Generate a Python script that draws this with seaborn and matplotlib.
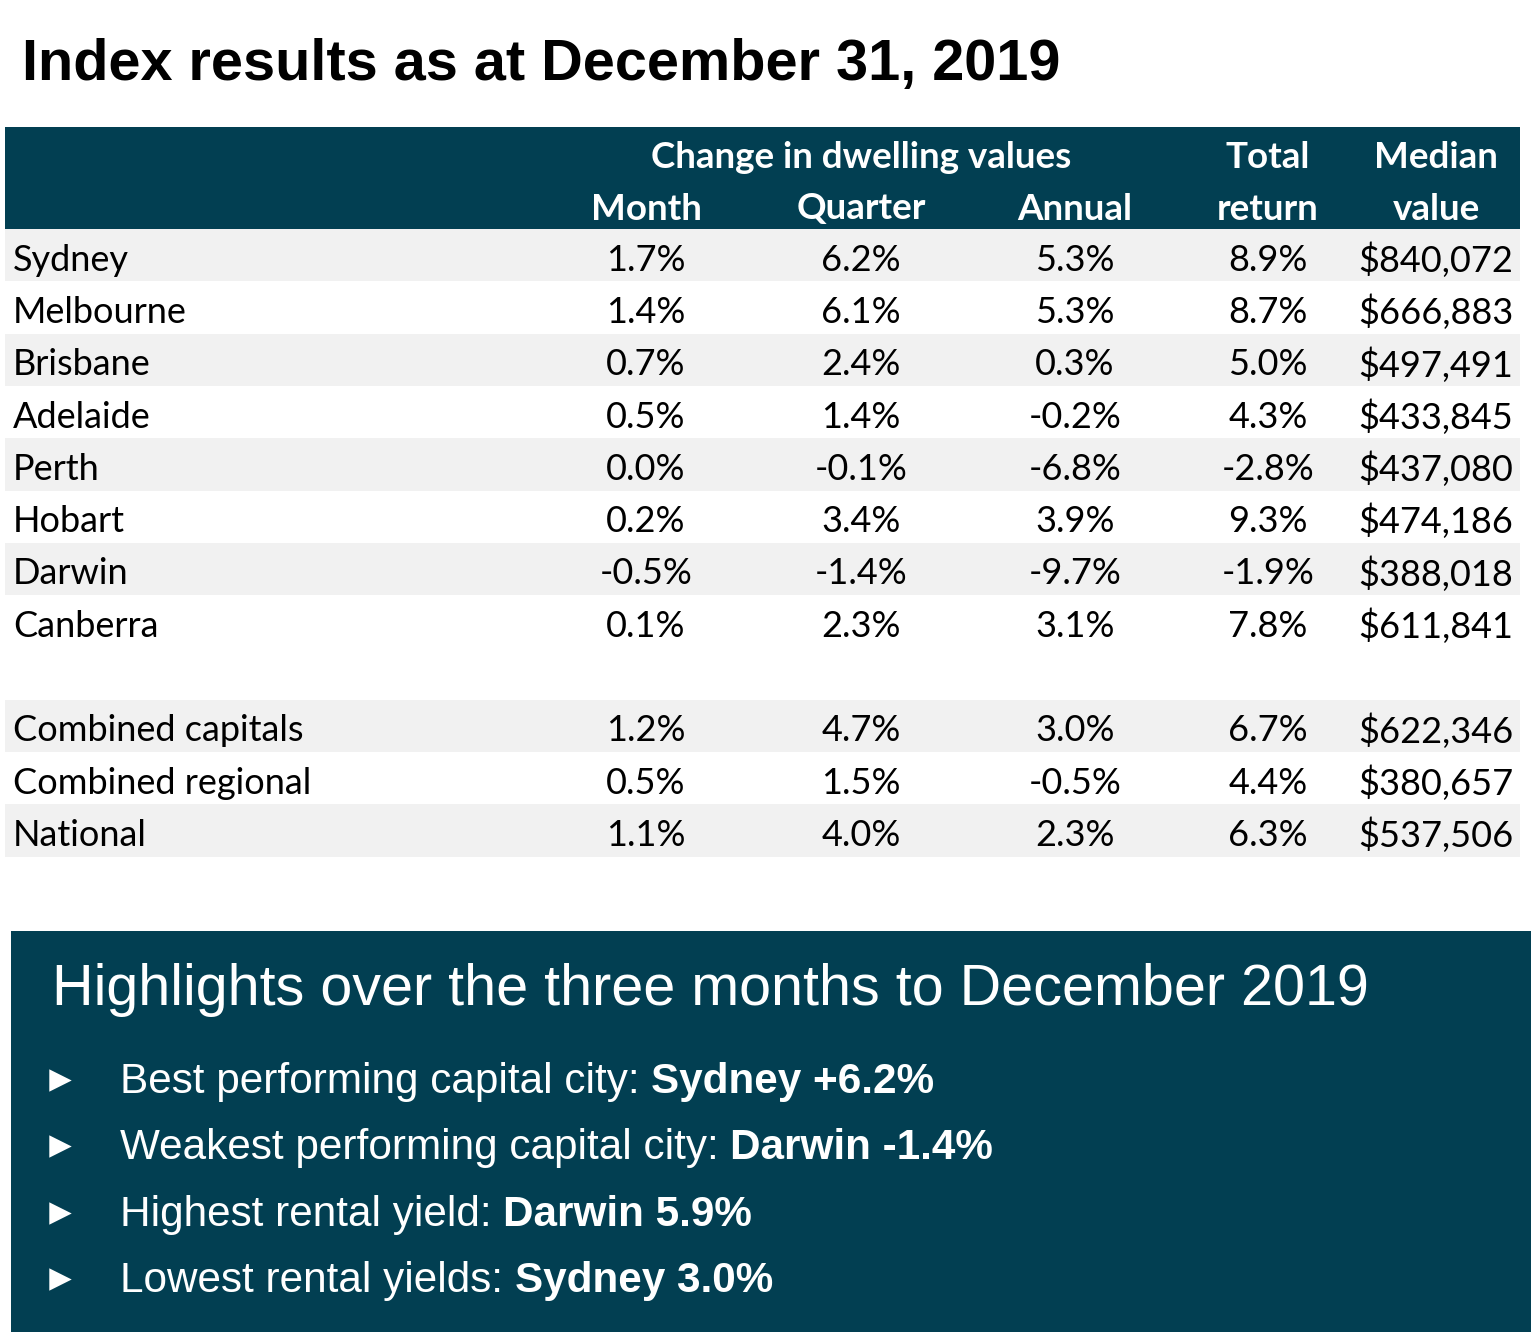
import matplotlib
matplotlib.use("Agg")
import matplotlib.pyplot as plt
import seaborn as sns

# table data
cities = ["Sydney", "Melbourne", "Brisbane", "Adelaide", "Perth", "Hobart", "Darwin", "Canberra",
          None, "Combined capitals", "Combined regional", "National"]
month = [1.7, 1.4, 0.7, 0.5, 0.0, 0.2, -0.5, 0.1, None, 1.2, 0.5, 1.1]
quarter = [6.2, 6.1, 2.4, 1.4, -0.1, 3.4, -1.4, 2.3, None, 4.7, 1.5, 4.0]
annual = [5.3, 5.3, 0.3, -0.2, -6.8, 3.9, -9.7, 3.1, None, 3.0, -0.5, 2.3]
total_return = [8.9, 8.7, 5.0, 4.3, -2.8, 9.3, -1.9, 7.8, None, 6.7, 4.4, 6.3]
median_value = [840072, 666883, 497491, 433845, 437080, 474186, 388018, 611841, None,
                622346, 380657, 537506]

highlight_labels = ["Best performing capital city: ", "Weakest performing capital city: ",
                    "Highest rental yield: ", "Lowest rental yields: "]
highlight_values = ["Sydney +6.2%", "Darwin -1.4%", "Darwin 5.9%", "Sydney 3.0%"]

TEAL = "#023F52"
STRIPE = "#F1F1F1"

sns.set_theme(style="white")
plt.rcParams["font.family"] = ["Lato", "DejaVu Sans"]

fig = plt.figure(figsize=(15.36, 13.32), dpi=100)
ax = fig.add_axes([0, 0, 1, 1])
ax.set_xlim(0, 1536)
ax.set_ylim(1332, 0)
ax.axis("off")

ax.text(22, 65, "Index results as at December 31, 2019", fontsize=41.5, fontweight="bold",
        family="Liberation Sans", va="center", ha="left", color="black")

# header band
left, right = 5, 1520
ax.barh(178, right - left, left=left, height=102, color=TEAL, linewidth=0)
col_x = [646, 861, 1075, 1268, 1436]
hdr = dict(color="white", fontsize=26.5, fontweight="bold", ha="center", va="center")
ax.text(861, 157, "Change in dwelling values", **hdr)
for x, lab in zip(col_x[:3], ["Month", "Quarter", "Annual"]):
    ax.text(x, 209, lab, **hdr)
ax.text(col_x[3], 157, "Total", **hdr)
ax.text(col_x[3], 209, "return", **hdr)
ax.text(col_x[4], 157, "Median", **hdr)
ax.text(col_x[4], 209, "value", **hdr)

# body rows
top = 229
row_h = 52.3
for i, city in enumerate(cities):
    if city is None:
        continue
    yc = top + row_h * (i + 0.5)
    band = i if i < 8 else i - 9
    if band % 2 == 0:
        ax.barh(yc, right - left, left=left, height=row_h, color=STRIPE, linewidth=0)
    ty = yc + 5
    ax.text(13, ty, city, fontsize=26, ha="left", va="center", color="black")
    vals = [f"{month[i]:.1f}%", f"{quarter[i]:.1f}%", f"{annual[i]:.1f}%",
            f"{total_return[i]:.1f}%", f"${median_value[i]:,}"]
    for x, v in zip(col_x, vals):
        ax.text(x, ty, v, fontsize=26, ha="center", va="center", color="black")

# highlights box
ax.barh((931 + 1332) / 2, 1520, left=11, height=1332 - 931, color=TEAL, linewidth=0)
ax.text(52, 990, "Highlights over the three months to December 2019", fontsize=41.4,
        family="Liberation Sans", color="white", ha="left", va="center")
for k, (lab, val) in enumerate(zip(highlight_labels, highlight_values)):
    y = 1080 + k * 66.3
    ax.scatter([60], [y], marker=">", s=260, color="white", linewidths=0)
    t = ax.text(120, y + 13, lab, fontsize=30.4, family="Liberation Sans", color="white",
                ha="left", va="baseline")
    ax.annotate(val, xy=(1, 0), xycoords=t, fontsize=30.4, family="Liberation Sans",
                fontweight="bold", color="white", ha="left", va="bottom")

fig.savefig("out.png", dpi=100)
